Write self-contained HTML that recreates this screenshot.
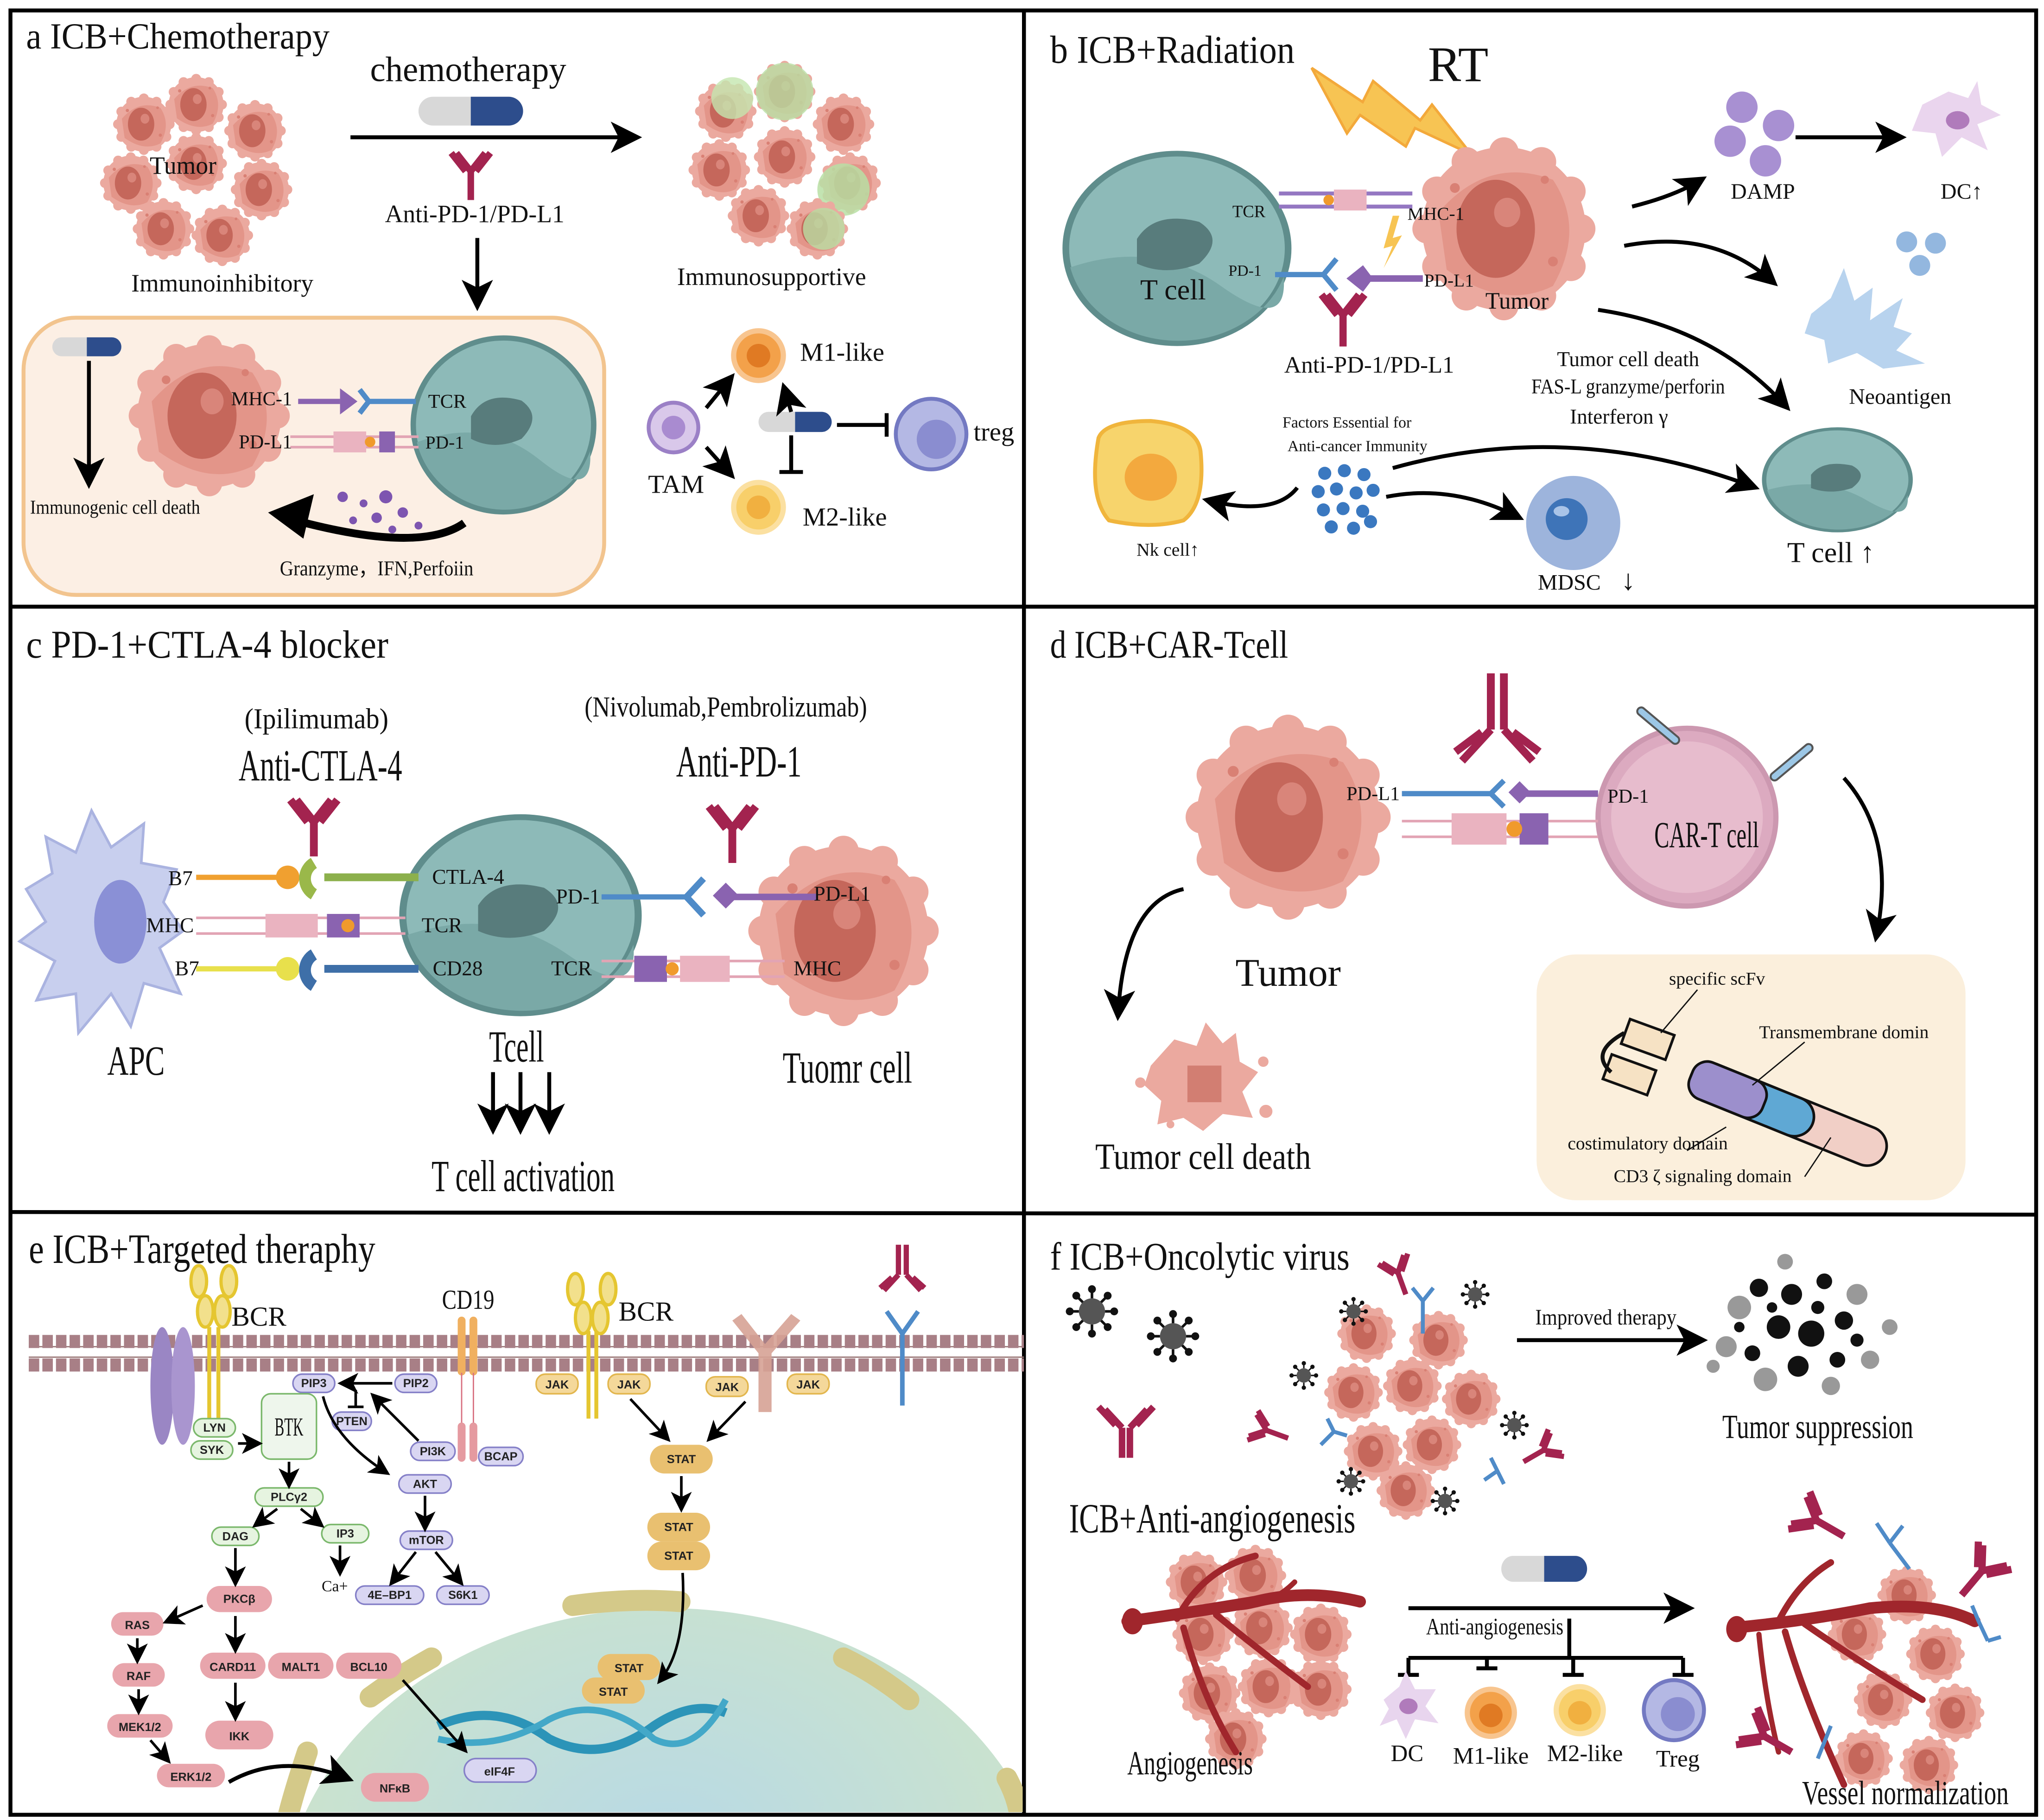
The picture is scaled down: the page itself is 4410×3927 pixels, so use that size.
<!DOCTYPE html>
<html><head><meta charset="utf-8"><style>
html,body{margin:0;padding:0;background:#fff;width:4410px;height:3927px;overflow:hidden;}
svg{display:block;}
text{font-family:"Liberation Serif",serif;fill:#111;}
.s{font-family:"Liberation Sans",sans-serif;font-size:9px;font-weight:bold;fill:#222;text-anchor:middle;}
</style></head><body>
<svg width="4410" height="3927" viewBox="0 0 1563 1392" preserveAspectRatio="none" xmlns="http://www.w3.org/2000/svg">
<defs>
<g id="tum">
<circle r="50" fill="#eba99f"/>
<circle cx="47" cy="0" r="9" fill="#eba99f"/><circle cx="41" cy="23" r="9" fill="#eba99f"/><circle cx="23" cy="41" r="9" fill="#eba99f"/>
<circle cx="0" cy="47" r="9" fill="#eba99f"/><circle cx="-23" cy="41" r="9" fill="#eba99f"/><circle cx="-41" cy="23" r="9" fill="#eba99f"/>
<circle cx="-47" cy="0" r="9" fill="#eba99f"/><circle cx="-41" cy="-23" r="9" fill="#eba99f"/><circle cx="-23" cy="-41" r="9" fill="#eba99f"/>
<circle cx="0" cy="-47" r="9" fill="#eba99f"/><circle cx="23" cy="-41" r="9" fill="#eba99f"/><circle cx="41" cy="-23" r="9" fill="#eba99f"/>
<path d="M-40 -10 Q-10 -45 30 -30 Q50 0 30 35 Q0 50 -35 25Z" fill="#e39589"/>
<ellipse cx="-5" cy="0" rx="24" ry="30" fill="#c5675b"/>
<ellipse cx="2" cy="-10" rx="8" ry="9" fill="#d9857a"/>
<circle cx="-30" cy="-25" r="3" fill="#d98074"/><circle cx="30" cy="20" r="3" fill="#d98074"/><circle cx="25" cy="-30" r="2.5" fill="#d98074"/>
</g>
<g id="tcell">
<circle r="50" fill="#8dbab8" stroke="#5f8d8c" stroke-width="3"/>
<path d="M-48 10 Q-10 -5 20 20 T48 15 A50 50 0 0 1 -48 10Z" fill="#7aa9a7"/>
<path d="M-18 -5 Q-10 -20 10 -14 Q22 -5 10 8 Q-5 15 -18 8Z" fill="#587c7c"/>
</g>
<g id="ab"><path d="M0 0 V-22 M0 -22 L-11 -36 M0 -22 L11 -36 M-4 -22 L-15 -36 M4 -22 L15 -36" stroke="#a3234f" stroke-width="5" fill="none"/></g>
<g id="cap"><rect x="0" y="0" width="80" height="22" rx="11" fill="#d8d8d8"/><path d="M40 0 H69 A11 11 0 0 1 69 22 H40Z" fill="#2d4d8c"/></g>
<g id="vir"><circle r="10" fill="#555"/><g stroke="#111" stroke-width="2"><path d="M0 -10V-16M0 10V16M-10 0H-16M10 0H16M7 7L12 12M-7 -7L-12 -12M7 -7L12 -12M-7 7L-12 12"/></g><g fill="#111"><circle cy="-17" r="3"/><circle cy="17" r="3"/><circle cx="-17" r="3"/><circle cx="17" r="3"/><circle cx="12" cy="12" r="3"/><circle cx="-12" cy="-12" r="3"/><circle cx="12" cy="-12" r="3"/><circle cx="-12" cy="12" r="3"/></g></g>
<marker id="ar" markerWidth="8" markerHeight="8" refX="6" refY="4" orient="auto" markerUnits="strokeWidth"><path d="M0 0L8 4L0 8L2 4Z" fill="#000"/></marker>
<radialGradient id="nuc" cx="0.5" cy="0.4" r="0.6"><stop offset="0" stop-color="#b7d9e6"/><stop offset="1" stop-color="#cfe5c8"/></radialGradient>
</defs>

<!-- borders -->
<g stroke="#000" stroke-width="3" fill="none">
<rect x="8" y="8" width="1549" height="1380"/>
<line x1="783" y1="8" x2="783" y2="1388"/>
<line x1="8" y1="464" x2="1557" y2="464"/>
<line x1="8" y1="927" x2="1557" y2="929"/>
</g>

<!-- ===== Panel a ===== -->
<text x="20" y="37" font-size="28" textLength="232" lengthAdjust="spacingAndGlyphs">a ICB+Chemotherapy</text>
<g>
<use href="#tum" transform="translate(110,95) scale(0.42)"/><use href="#tum" transform="translate(150,80) scale(0.42)"/><use href="#tum" transform="translate(195,100) scale(0.42)"/>
<use href="#tum" transform="translate(100,140) scale(0.42)"/><use href="#tum" transform="translate(150,125) scale(0.42)"/><use href="#tum" transform="translate(200,145) scale(0.42)"/>
<use href="#tum" transform="translate(125,175) scale(0.42)"/><use href="#tum" transform="translate(170,180) scale(0.42)"/>
</g>
<text x="140" y="133" font-size="19" text-anchor="middle">Tumor</text>
<text x="170" y="223" font-size="19" text-anchor="middle">Immunoinhibitory</text>
<text x="358" y="62" font-size="27" text-anchor="middle" textLength="150" lengthAdjust="spacingAndGlyphs">chemotherapy</text>
<use href="#cap" transform="translate(320,74)"/>
<line x1="268" y1="105" x2="485" y2="105" stroke="#000" stroke-width="3" marker-end="url(#ar)"/>
<use href="#ab" transform="translate(360,153)"/>
<text x="363" y="170" font-size="19" text-anchor="middle">Anti-PD-1/PD-L1</text>
<line x1="365" y1="182" x2="365" y2="232" stroke="#000" stroke-width="3" marker-end="url(#ar)"/>
<g>
<use href="#tum" transform="translate(555,85) scale(0.42)"/><use href="#tum" transform="translate(600,70) scale(0.42)"/>
<circle cx="600" cy="70" r="22" fill="#b9dfa4" opacity="0.8"/>
<use href="#tum" transform="translate(645,95) scale(0.42)"/><use href="#tum" transform="translate(550,130) scale(0.42)"/>
<use href="#tum" transform="translate(600,120) scale(0.42)"/><use href="#tum" transform="translate(650,140) scale(0.42)"/>
<circle cx="645" cy="145" r="20" fill="#b9dfa4" opacity="0.85"/><circle cx="560" cy="75" r="16" fill="#c4e6af" opacity="0.8"/>
<use href="#tum" transform="translate(580,165) scale(0.42)"/><use href="#tum" transform="translate(625,175) scale(0.42)"/>
<circle cx="630" cy="175" r="16" fill="#b9dfa4" opacity="0.8"/>
</g>
<text x="590" y="218" font-size="19" text-anchor="middle">Immunosupportive</text>
<rect x="18" y="243" width="444" height="212" rx="40" fill="#fcefe4" stroke="#f2c48e" stroke-width="3"/>
<g transform="translate(40,258) scale(0.66)"><use href="#cap"/></g>
<line x1="68" y1="276" x2="68" y2="368" stroke="#000" stroke-width="3" marker-end="url(#ar)"/>
<text x="88" y="393" font-size="15" text-anchor="middle" textLength="130" lengthAdjust="spacingAndGlyphs">Immunogenic cell death</text>
<use href="#tum" transform="translate(160,318) scale(1.1)"/>
<use href="#tcell" transform="translate(385,325) scale(1.38 1.33)"/>
<g stroke-width="4" fill="none">
<line x1="228" y1="307" x2="260" y2="307" stroke="#8a63b0"/><path d="M262 301 L270 307 L262 313Z" fill="#8a63b0" stroke="#8a63b0"/>
<path d="M275 298 L282 307 H318" stroke="#4f8bc8"/><path d="M275 316 L282 307" stroke="#4f8bc8"/>
<line x1="222" y1="334" x2="320" y2="334" stroke="#e2a4b4" stroke-width="2"/><line x1="222" y1="342" x2="320" y2="342" stroke="#e2a4b4" stroke-width="2"/>
<rect x="255" y="330" width="25" height="16" fill="#eab3c0" stroke="none"/>
<rect x="290" y="330" width="12" height="16" fill="#8a63b0" stroke="none"/>
</g>
<circle cx="283" cy="338" r="4" fill="#f09a2c"/>
<text x="200" y="310" font-size="15" text-anchor="middle">MHC-1</text>
<text x="203" y="343" font-size="15" text-anchor="middle">PD-L1</text>
<text x="342" y="312" font-size="15" text-anchor="middle">TCR</text>
<text x="340" y="343" font-size="14" text-anchor="middle">PD-1</text>
<path d="M355 400 Q320 425 215 395" stroke="#000" stroke-width="6" fill="none"/>
<path d="M205 392 L240 378 L232 412Z" fill="#000"/>
<g fill="#7d55b0"><circle cx="262" cy="380" r="4"/><circle cx="278" cy="385" r="3"/><circle cx="295" cy="380" r="5"/><circle cx="308" cy="392" r="4"/><circle cx="270" cy="398" r="3"/><circle cx="288" cy="396" r="4"/><circle cx="320" cy="402" r="3"/><circle cx="300" cy="405" r="3"/></g>
<text x="288" y="440" font-size="16" text-anchor="middle" textLength="148" lengthAdjust="spacingAndGlyphs">Granzyme，IFN,Perfoiin</text>
<circle cx="515" cy="327" r="19" fill="#d9c8ea" stroke="#9b80c6" stroke-width="3"/><circle cx="515" cy="327" r="9" fill="#a98bd0"/>
<text x="517" y="377" font-size="20" text-anchor="middle">TAM</text>
<circle cx="580" cy="272" r="19" fill="#f3a14a" stroke="#f8c58f" stroke-width="4"/><circle cx="580" cy="272" r="9" fill="#e07a23"/>
<text x="644" y="276" font-size="20" text-anchor="middle">M1-like</text>
<circle cx="580" cy="388" r="19" fill="#f8cf6a" stroke="#fbe0a1" stroke-width="4"/><circle cx="580" cy="388" r="9" fill="#f1b040"/>
<text x="646" y="402" font-size="20" text-anchor="middle">M2-like</text>
<g transform="translate(580,315) scale(0.7)"><use href="#cap"/></g>
<line x1="540" y1="312" x2="558" y2="290" stroke="#000" stroke-width="3" marker-end="url(#ar)"/>
<line x1="540" y1="342" x2="558" y2="362" stroke="#000" stroke-width="3" marker-end="url(#ar)"/>
<line x1="605" y1="315" x2="600" y2="298" stroke="#000" stroke-width="3" marker-end="url(#ar)"/>
<path d="M605 333 V360 M596 361 H614" stroke="#000" stroke-width="3"/>
<path d="M640 325 H678 M678 316 V334" stroke="#000" stroke-width="3"/>
<circle cx="712" cy="332" r="27" fill="#b4b8e4" stroke="#7379c2" stroke-width="3"/><circle cx="716" cy="336" r="15" fill="#8a8dd0"/>
<text x="760" y="337" font-size="20" text-anchor="middle">treg</text>

<!-- ===== Panel b ===== -->
<text x="803" y="48" font-size="30" textLength="187" lengthAdjust="spacingAndGlyphs">b ICB+Radiation</text>
<text x="1115" y="62" font-size="38" text-anchor="middle">RT</text>
<path d="M1003 52 L1042 78 L1050 62 L1086 92 L1095 80 L1125 118 L1082 98 L1075 112 L1040 88 L1030 102 Z" fill="#f7c453" stroke="#f3a93b" stroke-width="2"/>
<use href="#tcell" transform="translate(900,190) scale(1.7 1.45)"/>
<text x="897" y="229" font-size="22" text-anchor="middle">T cell</text>
<text x="955" y="166" font-size="13" text-anchor="middle">TCR</text>
<text x="952" y="211" font-size="12" text-anchor="middle">PD-1</text>
<use href="#tum" transform="translate(1150,175) scale(1.25)"/>
<text x="1098" y="168" font-size="14" text-anchor="middle">MHC-1</text>
<text x="1108" y="219" font-size="14" text-anchor="middle">PD-L1</text>
<text x="1160" y="236" font-size="18" text-anchor="middle">Tumor</text>
<g stroke-width="3" fill="none">
<line x1="978" y1="148" x2="1080" y2="148" stroke="#9477c2"/><line x1="978" y1="158" x2="1080" y2="158" stroke="#9477c2"/>
<rect x="1020" y="145" width="25" height="16" fill="#eab3c0" stroke="none"/>
<path d="M975 210 H1012 M1012 210 L1022 198 M1012 210 L1022 222" stroke="#4f8bc8" stroke-width="4"/>
<path d="M1035 213 H1088" stroke="#8a63b0" stroke-width="5"/><path d="M1032 213 L1042 205 L1048 213 L1042 221Z" fill="#8a63b0" stroke="#8a63b0"/>
</g>
<circle cx="1016" cy="153" r="4" fill="#f09a2c"/>
<path d="M1065 165 L1058 190 L1065 188 L1058 205 L1072 180 L1065 182 L1070 165Z" fill="#f7c453"/>
<use href="#ab" transform="translate(1027,265) scale(1.1)"/>
<text x="1047" y="285" font-size="18" text-anchor="middle">Anti-PD-1/PD-L1</text>
<g fill="#a890d2"><circle cx="1332" cy="82" r="12"/><circle cx="1360" cy="96" r="12"/><circle cx="1323" cy="108" r="12"/><circle cx="1350" cy="123" r="12"/></g>
<text x="1348" y="152" font-size="17" text-anchor="middle">DAMP</text>
<line x1="1373" y1="105" x2="1452" y2="105" stroke="#000" stroke-width="3" marker-end="url(#ar)"/>
<path d="M1470 80 L1490 70 L1505 75 L1512 62 L1515 80 L1530 88 L1512 95 L1520 115 L1500 105 L1485 120 L1480 102 L1462 100Z" fill="#ead5ee"/>
<ellipse cx="1497" cy="92" rx="9" ry="7" fill="#b07bbb"/>
<text x="1500" y="152" font-size="17" text-anchor="middle">DC↑</text>
<path d="M1248 158 Q1280 150 1300 138" stroke="#000" stroke-width="3" fill="none" marker-end="url(#ar)"/>
<path d="M1242 188 Q1310 175 1355 215" stroke="#000" stroke-width="3" fill="none" marker-end="url(#ar)"/>
<path d="M1222 237 Q1310 250 1365 310" stroke="#000" stroke-width="3" fill="none" marker-end="url(#ar)"/>
<path d="M1385 240 L1400 228 L1410 205 L1418 230 L1432 220 L1430 245 L1455 228 L1448 250 L1462 255 L1450 268 L1472 278 L1440 282 L1420 270 L1398 278 L1395 260 L1380 255Z" fill="#b8d3ee"/>
<g fill="#93b7df"><circle cx="1458" cy="185" r="8"/><circle cx="1480" cy="186" r="8"/><circle cx="1468" cy="203" r="8"/></g>
<text x="1453" y="309" font-size="17" text-anchor="middle">Neoantigen</text>
<text x="1245" y="280" font-size="16" text-anchor="middle">Tumor cell death</text>
<text x="1245" y="301" font-size="16" text-anchor="middle" textLength="148" lengthAdjust="spacingAndGlyphs">FAS-L granzyme/perforin</text>
<text x="1238" y="324" font-size="16" text-anchor="middle">Interferon γ</text>
<use href="#tcell" transform="translate(1405,367) scale(1.12 0.78)"/>
<text x="1400" y="430" font-size="22" text-anchor="middle">T cell ↑</text>
<path d="M840 335 Q845 322 880 322 Q915 325 918 345 Q922 385 905 398 Q880 405 848 398 Q832 380 840 335Z" fill="#f7d46c" stroke="#f0b53c" stroke-width="3"/>
<ellipse cx="880" cy="365" rx="20" ry="18" fill="#f3a93e"/>
<text x="893" y="425" font-size="14" text-anchor="middle">Nk cell↑</text>
<text x="1030" y="327" font-size="12" text-anchor="middle">Factors Essential for</text>
<text x="1038" y="345" font-size="12" text-anchor="middle">Anti-cancer Immunity</text>
<g fill="#3a78c0"><circle cx="1013" cy="362" r="5"/><circle cx="1028" cy="360" r="5"/><circle cx="1043" cy="363" r="5"/><circle cx="1008" cy="376" r="5"/><circle cx="1022" cy="374" r="5"/><circle cx="1037" cy="377" r="5"/><circle cx="1050" cy="375" r="5"/><circle cx="1012" cy="390" r="5"/><circle cx="1027" cy="389" r="5"/><circle cx="1042" cy="391" r="5"/><circle cx="1018" cy="403" r="5"/><circle cx="1035" cy="404" r="5"/><circle cx="1048" cy="399" r="5"/></g>
<path d="M992 373 Q975 395 925 383" stroke="#000" stroke-width="3" fill="none" marker-end="url(#ar)"/>
<path d="M1060 380 Q1110 370 1160 395" stroke="#000" stroke-width="3" fill="none" marker-end="url(#ar)"/>
<path d="M1065 358 Q1200 320 1340 372" stroke="#000" stroke-width="3" fill="none" marker-end="url(#ar)"/>
<circle cx="1203" cy="400" r="36" fill="#9db4dc"/><circle cx="1198" cy="397" r="16" fill="#3e74b8"/><ellipse cx="1194" cy="391" rx="6" ry="4" fill="#a9c4e8"/>
<text x="1200" y="451" font-size="17" text-anchor="middle">MDSC</text>
<text x="1245" y="451" font-size="22" text-anchor="middle">↓</text>

<!-- ===== Panel c ===== -->
<text x="20" y="503" font-size="30" textLength="277" lengthAdjust="spacingAndGlyphs">c PD-1+CTLA-4 blocker</text>
<text x="242" y="557" font-size="22" text-anchor="middle" textLength="110" lengthAdjust="spacingAndGlyphs">(Ipilimumab)</text>
<text x="245" y="597" font-size="34" text-anchor="middle" textLength="125" lengthAdjust="spacingAndGlyphs">Anti-CTLA-4</text>
<text x="555" y="548" font-size="22" text-anchor="middle" textLength="216" lengthAdjust="spacingAndGlyphs">(Nivolumab,Pembrolizumab)</text>
<text x="565" y="594" font-size="34" text-anchor="middle" textLength="96" lengthAdjust="spacingAndGlyphs">Anti-PD-1</text>
<path d="M20 680 L40 668 L35 640 L58 652 L70 620 L85 648 L110 630 L108 660 L135 665 L125 690 L140 712 L122 725 L138 760 L110 752 L100 785 L85 760 L60 790 L58 760 L28 765 L42 735 L15 720 L35 705Z" fill="#c8cfee" stroke="#aab3e0" stroke-width="2"/>
<ellipse cx="92" cy="705" rx="20" ry="32" fill="#8a90d6"/>
<text x="104" y="822" font-size="32" text-anchor="middle" textLength="44" lengthAdjust="spacingAndGlyphs">APC</text>
<use href="#tcell" transform="translate(398,700) scale(1.8 1.5)"/>
<text x="395" y="812" font-size="34" text-anchor="middle" textLength="42" lengthAdjust="spacingAndGlyphs">Tcell</text>
<use href="#tum" transform="translate(645,712) scale(1.3)"/>
<text x="648" y="828" font-size="34" text-anchor="middle" textLength="99" lengthAdjust="spacingAndGlyphs">Tuomr cell</text>
<g fill="none">
<line x1="150" y1="671" x2="215" y2="671" stroke="#f0a030" stroke-width="4"/><circle cx="220" cy="671" r="9" fill="#f0a030"/>
<path d="M240 660 A14 14 0 0 0 240 684" stroke="#9ab84a" stroke-width="9"/><line x1="248" y1="671" x2="320" y2="671" stroke="#8cb04c" stroke-width="6"/>
<line x1="150" y1="741" x2="215" y2="741" stroke="#e8e04c" stroke-width="4"/><circle cx="220" cy="741" r="9" fill="#e8e04c"/>
<path d="M240 730 A14 14 0 0 0 240 754" stroke="#3e6fa8" stroke-width="9"/><line x1="248" y1="741" x2="320" y2="741" stroke="#3e6fa8" stroke-width="6"/>
<line x1="150" y1="702" x2="310" y2="702" stroke="#e2a4b4" stroke-width="2"/><line x1="150" y1="714" x2="310" y2="714" stroke="#e2a4b4" stroke-width="2"/>
<rect x="203" y="699" width="40" height="18" fill="#eab3c0"/>
<rect x="250" y="699" width="25" height="18" fill="#8a63b0"/>
<line x1="460" y1="686" x2="525" y2="686" stroke="#4f8bc8" stroke-width="4"/>
<path d="M525 686 L538 672 M525 686 L538 700" stroke="#4f8bc8" stroke-width="5"/>
<line x1="560" y1="686" x2="625" y2="686" stroke="#8a63b0" stroke-width="5"/><rect x="548" y="678" width="14" height="14" fill="#8a63b0" transform="rotate(45 555 685)"/>
<line x1="460" y1="735" x2="600" y2="735" stroke="#e2a4b4" stroke-width="2"/><line x1="460" y1="747" x2="600" y2="747" stroke="#e2a4b4" stroke-width="2"/>
<rect x="520" y="731" width="38" height="20" fill="#eab3c0"/><rect x="485" y="731" width="25" height="20" fill="#8a63b0"/>
</g>
<circle cx="266" cy="708" r="5" fill="#f09a2c"/><circle cx="514" cy="741" r="5" fill="#f09a2c"/>
<use href="#ab" transform="translate(240,655) scale(1.2)"/>
<use href="#ab" transform="translate(560,660) scale(1.2)"/>
<g font-size="16" text-anchor="middle">
<text x="138" y="677">B7</text><text x="130" y="713">MHC</text><text x="143" y="746">B7</text>
<text x="358" y="676">CTLA-4</text><text x="338" y="713">TCR</text><text x="350" y="746">CD28</text>
<text x="442" y="691">PD-1</text><text x="437" y="746">TCR</text><text x="644" y="689">PD-L1</text><text x="625" y="746">MHC</text>
</g>
<g stroke="#000" stroke-width="3"><line x1="377" y1="820" x2="377" y2="862" marker-end="url(#ar)"/><line x1="398" y1="820" x2="398" y2="862" marker-end="url(#ar)"/><line x1="420" y1="820" x2="420" y2="862" marker-end="url(#ar)"/></g>
<text x="400" y="911" font-size="34" text-anchor="middle" textLength="140" lengthAdjust="spacingAndGlyphs">T cell activation</text>

<!-- ===== Panel d ===== -->
<text x="803" y="503" font-size="30" textLength="182" lengthAdjust="spacingAndGlyphs">d ICB+CAR-Tcell</text>
<use href="#tum" transform="translate(985,625) scale(1.4)"/>
<text x="985" y="754" font-size="30" text-anchor="middle">Tumor</text>
<circle cx="1290" cy="625" r="68" fill="#dcaac0" stroke="#cc98b0" stroke-width="4"/>
<circle cx="1290" cy="625" r="58" fill="#e7bccd"/>
<text x="1305" y="648" font-size="28" text-anchor="middle" textLength="80" lengthAdjust="spacingAndGlyphs">CAR-T cell</text>
<text x="1245" y="614" font-size="15" text-anchor="middle">PD-1</text>
<text x="1050" y="612" font-size="15" text-anchor="middle">PD-L1</text>
<g fill="none">
<line x1="1072" y1="607" x2="1140" y2="607" stroke="#4f8bc8" stroke-width="4"/><path d="M1140 607 L1150 597 M1140 607 L1150 617" stroke="#4f8bc8" stroke-width="4"/>
<line x1="1165" y1="607" x2="1222" y2="607" stroke="#8a63b0" stroke-width="5"/><rect x="1156" y="600" width="12" height="12" fill="#8a63b0" transform="rotate(45 1162 606)"/>
<line x1="1072" y1="628" x2="1222" y2="628" stroke="#e2a4b4" stroke-width="2"/><line x1="1072" y1="640" x2="1222" y2="640" stroke="#e2a4b4" stroke-width="2"/>
<rect x="1110" y="622" width="42" height="24" fill="#eab3c0"/><rect x="1162" y="622" width="22" height="24" fill="#8a63b0"/>
</g>
<circle cx="1158" cy="634" r="6" fill="#f09a2c"/>
<g stroke="#a3234f" stroke-width="6" fill="none"><path d="M1140 515 V558 M1150 515 V558 M1140 558 L1118 582 M1150 558 L1172 582 M1133 560 L1113 575 M1157 560 L1177 575"/></g>
<g stroke="#555" stroke-width="1.5"><rect x="1248" y="552" width="40" height="6" rx="3" fill="#9cc7e6" transform="rotate(40 1268 555)"/><rect x="1350" y="580" width="40" height="6" rx="3" fill="#9cc7e6" transform="rotate(-40 1370 583)"/></g>
<path d="M905 680 Q860 690 855 775" stroke="#000" stroke-width="3" fill="none" marker-end="url(#ar)"/>
<path d="M1410 595 Q1450 640 1435 715" stroke="#000" stroke-width="3" fill="none" marker-end="url(#ar)"/>
<path d="M880 815 L898 795 L915 800 L922 782 L935 798 L945 790 L948 812 L962 820 L950 835 L958 855 L935 852 L920 865 L905 855 L885 860 L888 842 L875 830Z" fill="#eba99f"/>
<rect x="908" y="815" width="26" height="28" fill="#d27e72"/>
<g fill="#eba99f"><circle cx="872" cy="828" r="4"/><circle cx="966" cy="812" r="4"/><circle cx="968" cy="850" r="5"/><circle cx="895" cy="860" r="3"/></g>
<text x="920" y="894" font-size="28" text-anchor="middle" textLength="165" lengthAdjust="spacingAndGlyphs">Tumor cell death</text>
<rect x="1175" y="730" width="328" height="188" rx="30" fill="#fbefdc"/>
<g transform="rotate(22 1340 840)">
<rect x="1290" y="826" width="160" height="30" rx="15" fill="#f1cfc6" stroke="#111" stroke-width="2"/>
<rect x="1290" y="826" width="100" height="30" rx="15" fill="#5fa8d4" stroke="#111" stroke-width="2"/>
<rect x="1290" y="826" width="60" height="30" rx="12" fill="#9c8fcc" stroke="#111" stroke-width="2"/>
</g>
<rect x="1242" y="785" width="36" height="20" fill="#f6e2c4" stroke="#111" stroke-width="2" transform="rotate(20 1260 795)"/>
<rect x="1228" y="812" width="36" height="20" fill="#f6e2c4" stroke="#111" stroke-width="2" transform="rotate(20 1246 822)"/>
<path d="M1242 790 Q1215 805 1232 820" stroke="#111" stroke-width="3" fill="none"/>
<g stroke="#111" stroke-width="1"><line x1="1298" y1="757" x2="1270" y2="790"/><line x1="1380" y1="797" x2="1340" y2="830"/><line x1="1290" y1="880" x2="1320" y2="862"/><line x1="1380" y1="900" x2="1400" y2="870"/></g>
<g font-size="14" text-anchor="middle">
<text x="1313" y="753">specific scFv</text><text x="1410" y="794">Transmembrane domin</text>
<text x="1260" y="879">costimulatory domain</text><text x="1302" y="904">CD3 ζ  signaling domain</text>
</g>

<!-- ===== Panel e ===== -->
<defs><clipPath id="ce"><rect x="10" y="930" width="772" height="456"/></clipPath></defs>
<g clip-path="url(#ce)">
<ellipse cx="510" cy="1470" rx="295" ry="240" fill="url(#nuc)"/>
<g stroke="#d4c989" stroke-width="16" stroke-linecap="round" fill="none">
<path d="M283 1298 Q305 1282 330 1268"/><path d="M438 1228 Q480 1222 520 1225"/><path d="M645 1268 Q670 1280 695 1300"/><path d="M235 1340 Q225 1370 220 1390"/><path d="M770 1360 Q778 1375 780 1390"/>
</g>
</g>
<text x="22" y="966" font-size="32" textLength="265" lengthAdjust="spacingAndGlyphs">e ICB+Targeted theraphy</text>
<g>
<line x1="22" y1="1030" x2="783" y2="1030" stroke="#9a7777" stroke-width="1"/><line x1="22" y1="1038" x2="783" y2="1038" stroke="#9a7777" stroke-width="1"/>
<line x1="22" y1="1026" x2="783" y2="1026" stroke="#a87f86" stroke-width="10" stroke-dasharray="8 2.4" />
<line x1="22" y1="1044" x2="783" y2="1044" stroke="#a87f86" stroke-width="10" stroke-dasharray="8 2.4"/>
</g>
<ellipse cx="124" cy="1060" rx="9" ry="45" fill="#9a86c4"/><ellipse cx="140" cy="1060" rx="9" ry="45" fill="#a995cf"/>
<g stroke="#e5c630" stroke-width="2.5" fill="#f2e08c"><ellipse cx="152" cy="980" rx="6" ry="12"/><ellipse cx="175" cy="980" rx="6" ry="12"/><ellipse cx="157" cy="1003" rx="6" ry="12"/><ellipse cx="170" cy="1003" rx="6" ry="12"/></g>
<g stroke="#e5c630" stroke-width="3"><line x1="160" y1="1015" x2="160" y2="1085"/><line x1="167" y1="1015" x2="167" y2="1085"/></g>
<text x="198" y="1014" font-size="21" text-anchor="middle">BCR</text>
<g stroke="#e5c630" stroke-width="2.5" fill="#f2e08c"><ellipse cx="440" cy="986" rx="6" ry="12"/><ellipse cx="465" cy="986" rx="6" ry="12"/><ellipse cx="446" cy="1008" rx="6" ry="12"/><ellipse cx="459" cy="1008" rx="6" ry="12"/></g>
<g stroke="#e5c630" stroke-width="3"><line x1="450" y1="1018" x2="450" y2="1085"/><line x1="456" y1="1018" x2="456" y2="1085"/></g>
<text x="494" y="1010" font-size="21" text-anchor="middle">BCR</text>
<text x="358" y="1001" font-size="21" text-anchor="middle" textLength="40" lengthAdjust="spacingAndGlyphs">CD19</text>
<g fill="#f0b060"><rect x="350" y="1007" width="6" height="45" rx="3"/><rect x="359" y="1007" width="6" height="45" rx="3"/></g>
<g stroke="#d87080" stroke-width="1"><line x1="353" y1="1050" x2="353" y2="1090"/><line x1="362" y1="1050" x2="362" y2="1090"/></g>
<g fill="#e59aa0"><rect x="350" y="1088" width="6" height="30" rx="3"/><rect x="359" y="1088" width="6" height="30" rx="3"/></g>
<path d="M560 1010 L580 1035 V1080 H590 V1035 L612 1010 L605 1005 L585 1028 L567 1005Z" fill="#d6a295" opacity="0.9"/>
<g stroke="#a3234f" stroke-width="4" fill="none"><path d="M687 952 V975 M693 952 V975 M687 975 L676 987 M693 975 L704 987 M682 977 L673 985 M698 977 L707 985"/></g>
<path d="M690 1075 V1020 M690 1020 L678 1003 M690 1020 L702 1003" stroke="#4f8bc8" stroke-width="3.5" fill="none"/>
<g stroke-width="1.2">
<rect x="224" y="1051" width="32" height="14" rx="7" fill="#d9d6f2" stroke="#8580c8"/><text class="s" x="240" y="1061">PIP3</text>
<rect x="302" y="1051" width="32" height="14" rx="7" fill="#d9d6f2" stroke="#8580c8"/><text class="s" x="318" y="1061">PIP2</text>
<rect x="254" y="1080" width="30" height="14" rx="7" fill="#d9d6f2" stroke="#8580c8"/><text class="s" x="269" y="1090">PTEN</text>
<rect x="148" y="1085" width="32" height="14" rx="7" fill="#e6f4e0" stroke="#7bb86c"/><text class="s" x="164" y="1095">LYN</text>
<rect x="146" y="1102" width="32" height="14" rx="7" fill="#e6f4e0" stroke="#7bb86c"/><text class="s" x="162" y="1112">SYK</text>
<rect x="200" y="1066" width="42" height="50" rx="7" fill="#eef6ec" stroke="#7bb86c"/><text x="221" y="1098" font-size="20" text-anchor="middle" font-family="Liberation Sans" textLength="22" lengthAdjust="spacingAndGlyphs">BTK</text>
<rect x="314" y="1103" width="34" height="14" rx="7" fill="#d9d6f2" stroke="#8580c8"/><text class="s" x="331" y="1113">PI3K</text>
<rect x="366" y="1107" width="34" height="14" rx="7" fill="#d9d6f2" stroke="#8580c8"/><text class="s" x="383" y="1117">BCAP</text>
<rect x="305" y="1128" width="40" height="14" rx="7" fill="#d9d6f2" stroke="#8580c8"/><text class="s" x="325" y="1138">AKT</text>
<rect x="195" y="1138" width="52" height="14" rx="7" fill="#e6f4e0" stroke="#7bb86c"/><text class="s" x="221" y="1148">PLCγ2</text>
<rect x="162" y="1168" width="36" height="14" rx="7" fill="#e6f4e0" stroke="#7bb86c"/><text class="s" x="180" y="1178">DAG</text>
<rect x="246" y="1166" width="36" height="14" rx="7" fill="#e6f4e0" stroke="#7bb86c"/><text class="s" x="264" y="1176">IP3</text>
<rect x="306" y="1171" width="40" height="14" rx="7" fill="#d9d6f2" stroke="#8580c8"/><text class="s" x="326" y="1181">mTOR</text>
<rect x="272" y="1213" width="52" height="14" rx="7" fill="#d9d6f2" stroke="#8580c8"/><text class="s" x="298" y="1223">4E–BP1</text>
<rect x="334" y="1213" width="40" height="14" rx="7" fill="#d9d6f2" stroke="#8580c8"/><text class="s" x="354" y="1223">S6K1</text>
</g>
<g fill="#e8a5ac">
<rect x="158" y="1213" width="50" height="20" rx="10"/><text class="s" x="183" y="1226">PKCβ</text>
<rect x="85" y="1233" width="40" height="18" rx="9"/><text class="s" x="105" y="1246">RAS</text>
<rect x="86" y="1272" width="40" height="18" rx="9"/><text class="s" x="106" y="1285">RAF</text>
<rect x="82" y="1311" width="50" height="18" rx="9"/><text class="s" x="107" y="1324">MEK1/2</text>
<rect x="120" y="1349" width="52" height="18" rx="9"/><text class="s" x="146" y="1362">ERK1/2</text>
<rect x="153" y="1264" width="50" height="20" rx="10"/><text class="s" x="178" y="1278">CARD11</text>
<rect x="205" y="1264" width="50" height="20" rx="10"/><text class="s" x="230" y="1278">MALT1</text>
<rect x="257" y="1264" width="50" height="20" rx="10"/><text class="s" x="282" y="1278">BCL10</text>
<rect x="157" y="1316" width="52" height="22" rx="11"/><text class="s" x="183" y="1331">IKK</text>
<rect x="276" y="1356" width="52" height="22" rx="11"/><text class="s" x="302" y="1371">NFκB</text>
</g>
<rect x="355" y="1345" width="55" height="18" rx="9" fill="#d9d6f2" stroke="#8580c8" stroke-width="1.2"/><text class="s" x="382" y="1358">eIF4F</text>
<g fill="#f4d89a" stroke="#e2b64e" stroke-width="1.2">
<rect x="410" y="1051" width="32" height="15" rx="7"/><rect x="465" y="1051" width="32" height="15" rx="7"/><rect x="540" y="1053" width="32" height="15" rx="7"/><rect x="602" y="1051" width="32" height="15" rx="7"/>
</g>
<g fill="#e9c070"><rect x="497" y="1105" width="48" height="22" rx="11"/><rect x="495" y="1157" width="48" height="22" rx="11"/><rect x="495" y="1179" width="48" height="22" rx="11"/><rect x="457" y="1265" width="48" height="20" rx="10"/><rect x="445" y="1283" width="48" height="20" rx="10"/></g>
<g class="s"><text class="s" x="426" y="1062">JAK</text><text class="s" x="481" y="1062">JAK</text><text class="s" x="556" y="1064">JAK</text><text class="s" x="618" y="1062">JAK</text>
<text class="s" x="521" y="1119">STAT</text><text class="s" x="519" y="1171">STAT</text><text class="s" x="519" y="1193">STAT</text><text class="s" x="481" y="1279">STAT</text><text class="s" x="469" y="1297">STAT</text></g>
<text x="256" y="1217" font-size="12" text-anchor="middle">Ca+</text>
<path d="M335 1320 Q380 1300 420 1330 Q460 1350 500 1320 Q530 1300 555 1310" stroke="#2c94b8" stroke-width="7" fill="none"/>
<path d="M335 1330 Q380 1340 420 1315 Q460 1295 500 1330 Q530 1345 555 1300" stroke="#43a8c8" stroke-width="5" fill="none"/>
<g stroke="#000" stroke-width="2" fill="none">
<line x1="182" y1="1104" x2="197" y2="1104" marker-end="url(#ar)"/>
<line x1="221" y1="1118" x2="221" y2="1135" marker-end="url(#ar)"/>
<line x1="212" y1="1154" x2="196" y2="1166" marker-end="url(#ar)"/>
<line x1="230" y1="1154" x2="245" y2="1166" marker-end="url(#ar)"/>
<line x1="180" y1="1184" x2="180" y2="1210" marker-end="url(#ar)"/>
<line x1="260" y1="1182" x2="260" y2="1202" marker-end="url(#ar)"/>
<line x1="300" y1="1058" x2="262" y2="1058" marker-end="url(#ar)"/>
<path d="M272 1063 V1076 M266 1076 H278"/>
<line x1="320" y1="1102" x2="286" y2="1068" marker-end="url(#ar)"/>
<path d="M247 1068 Q255 1100 295 1126" marker-end="url(#ar)"/>
<line x1="325" y1="1144" x2="325" y2="1168" marker-end="url(#ar)"/>
<line x1="318" y1="1187" x2="300" y2="1210" marker-end="url(#ar)"/>
<line x1="333" y1="1187" x2="352" y2="1210" marker-end="url(#ar)"/>
<line x1="155" y1="1228" x2="128" y2="1240" marker-end="url(#ar)"/>
<line x1="180" y1="1236" x2="180" y2="1261" marker-end="url(#ar)"/>
<line x1="105" y1="1253" x2="105" y2="1269" marker-end="url(#ar)"/>
<line x1="106" y1="1292" x2="106" y2="1308" marker-end="url(#ar)"/>
<line x1="115" y1="1331" x2="128" y2="1346" marker-end="url(#ar)"/>
<line x1="180" y1="1287" x2="180" y2="1313" marker-end="url(#ar)"/>
<line x1="308" y1="1285" x2="355" y2="1338" marker-end="url(#ar)"/>
<line x1="482" y1="1070" x2="510" y2="1100" marker-end="url(#ar)"/>
<line x1="570" y1="1072" x2="543" y2="1100" marker-end="url(#ar)"/>
<line x1="521" y1="1129" x2="521" y2="1153" marker-end="url(#ar)"/>
<path d="M522 1203 Q525 1260 505 1285" marker-end="url(#ar)"/>
<path d="M175 1363 Q215 1340 265 1360" stroke-width="3" marker-end="url(#ar)"/>
</g>

<!-- ===== Panel f ===== -->
<text x="803" y="971" font-size="30" textLength="229" lengthAdjust="spacingAndGlyphs">f ICB+Oncolytic virus</text>
<use href="#vir" transform="translate(835,1003)"/><use href="#vir" transform="translate(897,1022)"/>
<g stroke="#a3234f" stroke-width="5" fill="none"><path d="M858 1092 V1115 M864 1092 V1115 M858 1092 L845 1078 M864 1092 L877 1078 M853 1090 L840 1076 M869 1090 L882 1076"/></g>
<g>
<use href="#tum" transform="translate(1045,1020) scale(0.4)"/><use href="#tum" transform="translate(1100,1025) scale(0.4)"/>
<use href="#tum" transform="translate(1035,1065) scale(0.4)"/><use href="#tum" transform="translate(1080,1060) scale(0.4)"/><use href="#tum" transform="translate(1125,1070) scale(0.4)"/>
<use href="#tum" transform="translate(1050,1110) scale(0.4)"/><use href="#tum" transform="translate(1095,1105) scale(0.4)"/><use href="#tum" transform="translate(1075,1140) scale(0.4)"/>
</g>
<use href="#vir" transform="translate(1035,1003) scale(0.55)"/><use href="#vir" transform="translate(1128,990) scale(0.55)"/><use href="#vir" transform="translate(997,1052) scale(0.55)"/>
<use href="#vir" transform="translate(1158,1090) scale(0.55)"/><use href="#vir" transform="translate(1033,1133) scale(0.55)"/><use href="#vir" transform="translate(1105,1148) scale(0.55)"/>
<use href="#ab" transform="translate(985,1100) rotate(-70) scale(0.8)"/><use href="#ab" transform="translate(1075,990) rotate(-20) scale(0.8)"/><use href="#ab" transform="translate(1165,1118) rotate(60) scale(0.8)"/>
<g stroke="#4f8bc8" stroke-width="3" fill="none"><path d="M1088 1020 V995 L1080 985 M1088 995 L1096 985"/><path d="M1010 1105 L1020 1095 L1015 1085 M1020 1095 L1030 1098"/><path d="M1140 1115 L1145 1125 L1135 1132 M1145 1125 L1150 1135"/></g>
<text x="1228" y="1013" font-size="17" text-anchor="middle" textLength="108" lengthAdjust="spacingAndGlyphs">Improved therapy</text>
<line x1="1160" y1="1025" x2="1300" y2="1025" stroke="#000" stroke-width="3" marker-end="url(#ar)"/>
<g fill="#999"><circle cx="1330" cy="1000" r="9"/><circle cx="1320" cy="1030" r="8"/><circle cx="1420" cy="990" r="8"/><circle cx="1430" cy="1040" r="7"/><circle cx="1350" cy="1055" r="9"/><circle cx="1400" cy="1060" r="7"/><circle cx="1365" cy="965" r="6"/><circle cx="1445" cy="1015" r="6"/><circle cx="1310" cy="1045" r="5"/></g>
<g fill="#111"><circle cx="1345" cy="985" r="7"/><circle cx="1370" cy="990" r="8"/><circle cx="1395" cy="980" r="6"/><circle cx="1360" cy="1015" r="9"/><circle cx="1385" cy="1020" r="10"/><circle cx="1410" cy="1010" r="7"/><circle cx="1340" cy="1035" r="6"/><circle cx="1375" cy="1045" r="8"/><circle cx="1405" cy="1040" r="6"/><circle cx="1420" cy="1025" r="5"/><circle cx="1390" cy="1000" r="5"/><circle cx="1355" cy="1000" r="4"/><circle cx="1330" cy="1015" r="4"/></g>
<text x="1390" y="1100" font-size="26" text-anchor="middle" textLength="146" lengthAdjust="spacingAndGlyphs">Tumor suppression</text>
<text x="927" y="1172" font-size="32" text-anchor="middle" textLength="219" lengthAdjust="spacingAndGlyphs">ICB+Anti-angiogenesis</text>
<g>
<use href="#tum" transform="translate(915,1210) scale(0.42)"/><use href="#tum" transform="translate(960,1205) scale(0.42)"/>
<use href="#tum" transform="translate(920,1250) scale(0.42)"/><use href="#tum" transform="translate(965,1245) scale(0.42)"/><use href="#tum" transform="translate(1010,1250) scale(0.42)"/>
<use href="#tum" transform="translate(925,1295) scale(0.42)"/><use href="#tum" transform="translate(970,1290) scale(0.42)"/><use href="#tum" transform="translate(1010,1292) scale(0.42)"/>
<use href="#tum" transform="translate(945,1330) scale(0.42)"/>
</g>
<g stroke="#a0262c" fill="none" stroke-linecap="round">
<path d="M862 1240 Q900 1235 960 1225 Q1000 1215 1040 1225" stroke-width="9"/>
<path d="M900 1238 Q920 1200 960 1190" stroke-width="5"/><path d="M930 1235 Q960 1260 1000 1290" stroke-width="5"/>
<path d="M905 1245 Q920 1300 945 1340" stroke-width="5"/><path d="M940 1230 Q970 1230 990 1210" stroke-width="4"/>
</g>
<ellipse cx="866" cy="1240" rx="8" ry="10" fill="#a0262c"/>
<text x="910" y="1357" font-size="26" text-anchor="middle" textLength="96" lengthAdjust="spacingAndGlyphs">Angiogenesis</text>
<g transform="translate(1148,1190) scale(0.82 0.9)"><use href="#cap"/></g>
<line x1="1077" y1="1230" x2="1290" y2="1230" stroke="#000" stroke-width="3" marker-end="url(#ar)"/>
<text x="1143" y="1250" font-size="18" text-anchor="middle" textLength="105" lengthAdjust="spacingAndGlyphs">Anti-angiogenesis</text>
<g stroke="#000" stroke-width="3" fill="none">
<path d="M1200 1238 V1268 M1077 1268 H1287 M1077 1268 V1281 M1137 1268 V1276 M1203 1268 V1281 M1287 1268 V1281"/>
<path d="M1069 1281 H1085 M1129 1276 H1145 M1195 1281 H1211 M1279 1281 H1295"/>
</g>
<path d="M1058 1300 L1070 1290 L1075 1278 L1082 1292 L1098 1292 L1090 1305 L1100 1318 L1082 1315 L1075 1330 L1068 1315 L1055 1320 L1062 1307Z" fill="#e8d5ee"/><ellipse cx="1077" cy="1305" rx="7" ry="6" fill="#b07bbb"/>
<circle cx="1140" cy="1310" r="18" fill="#f3a14a" stroke="#f8c58f" stroke-width="4"/><circle cx="1140" cy="1312" r="9" fill="#e07a23"/>
<circle cx="1208" cy="1308" r="18" fill="#f8cf6a" stroke="#fbe0a1" stroke-width="4"/><circle cx="1208" cy="1310" r="9" fill="#f1b040"/>
<circle cx="1280" cy="1308" r="23" fill="#b4b8e4" stroke="#7379c2" stroke-width="3"/><circle cx="1283" cy="1311" r="13" fill="#8a8dd0"/>
<g font-size="18" text-anchor="middle"><text x="1076" y="1347">DC</text><text x="1140" y="1349">M1-like</text><text x="1212" y="1347">M2-like</text><text x="1283" y="1351">Treg</text></g>
<g>
<use href="#tum" transform="translate(1458,1220) scale(0.4)"/><use href="#tum" transform="translate(1420,1250) scale(0.4)"/><use href="#tum" transform="translate(1480,1265) scale(0.4)"/>
<use href="#tum" transform="translate(1440,1300) scale(0.4)"/><use href="#tum" transform="translate(1495,1310) scale(0.4)"/><use href="#tum" transform="translate(1425,1345) scale(0.4)"/><use href="#tum" transform="translate(1475,1350) scale(0.4)"/>
</g>
<g stroke="#a0262c" fill="none" stroke-linecap="round">
<path d="M1325 1245 Q1380 1240 1430 1230 Q1480 1225 1510 1240" stroke-width="9"/>
<path d="M1360 1240 Q1375 1210 1400 1195" stroke-width="5"/><path d="M1380 1242 Q1420 1270 1470 1300" stroke-width="5"/>
<path d="M1365 1248 Q1380 1300 1410 1365" stroke-width="5"/><path d="M1345 1250 Q1350 1300 1360 1340" stroke-width="4"/>
</g>
<ellipse cx="1328" cy="1246" rx="8" ry="10" fill="#a0262c"/>
<use href="#ab" transform="translate(1410,1175) rotate(-60) scale(1.1)"/><use href="#ab" transform="translate(1500,1220) rotate(40) scale(1.1)"/><use href="#ab" transform="translate(1370,1340) rotate(-60) scale(1.1)"/>
<g stroke="#4f8bc8" stroke-width="3" fill="none"><path d="M1445 1180 L1460 1200 M1445 1180 L1435 1165 M1445 1180 L1455 1167"/><path d="M1513 1240 L1520 1255 M1513 1240 L1508 1228 M1520 1255 L1530 1252"/><path d="M1390 1345 L1400 1320"/></g>
<text x="1457" y="1380" font-size="26" text-anchor="middle" textLength="158" lengthAdjust="spacingAndGlyphs">Vessel normalization</text>
</svg>
</body></html>
